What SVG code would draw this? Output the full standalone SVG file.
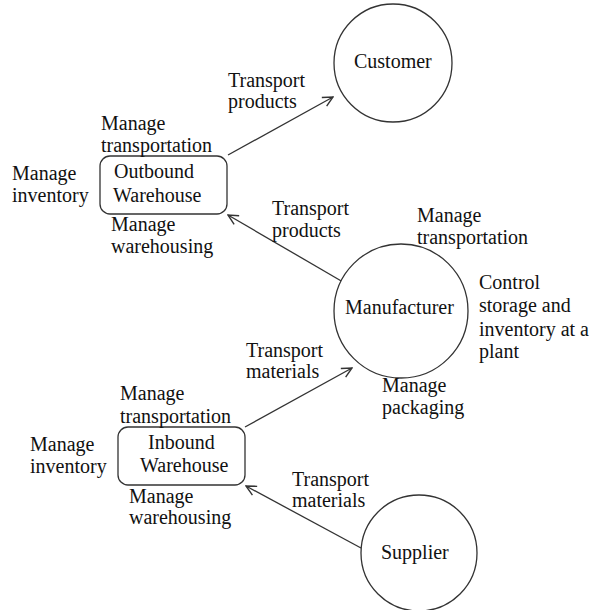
<svg xmlns="http://www.w3.org/2000/svg" width="595" height="610" viewBox="0 0 595 610">
<defs>
<marker id="arr" viewBox="0 0 12 12" refX="11" refY="6" markerWidth="12" markerHeight="12" markerUnits="userSpaceOnUse" orient="auto">
<path d="M1,1 L11,6 L1,11" fill="none" stroke="#333" stroke-width="1.4"/>
</marker>
</defs>
<style>
text{font-family:'Liberation Serif','DejaVu Serif',serif;font-size:20px;fill:#111}
.node{fill:#fff;stroke:#333;stroke-width:1.3}
.edge{stroke:#333;stroke-width:1.3;fill:none;marker-end:url(#arr)}
</style>
<rect width="595" height="610" fill="#fff"/>
<g id="connectors">
<line class="edge" x1="228" y1="155" x2="333" y2="97"/>
<line class="edge" x1="343" y1="282" x2="228" y2="215"/>
<line class="edge" x1="245" y1="427" x2="352" y2="368"/>
<line class="edge" x1="361" y1="548" x2="246" y2="486"/>
</g>
<g id="customer">
<circle class="node" cx="393" cy="63" r="59"/>
<text x="354" y="68">Customer</text>
</g>
<g id="outbound">
<rect class="node" x="100" y="156" width="127" height="58" rx="10"/>
<text x="114" y="178">Outbound</text>
<text x="113" y="202">Warehouse</text>
</g>
<g id="manufacturer">
<circle class="node" cx="401" cy="311" r="67"/>
<text x="345" y="314">Manufacturer</text>
</g>
<g id="inbound">
<rect class="node" x="118" y="427" width="127" height="58" rx="10"/>
<text x="148" y="449">Inbound</text>
<text x="140" y="472">Warehouse</text>
</g>
<g id="supplier">
<circle class="node" cx="419" cy="553" r="58"/>
<text x="381" y="559">Supplier</text>
</g>
<g id="labels">
<text x="228" y="87">Transport</text>
<text x="228" y="108">products</text>
<text x="101" y="130">Manage</text>
<text x="101" y="152">transportation</text>
<text x="12" y="180">Manage</text>
<text x="12" y="202">inventory</text>
<text x="111" y="231">Manage</text>
<text x="111" y="253">warehousing</text>
<text x="272" y="215">Transport</text>
<text x="272" y="237">products</text>
<text x="417" y="222">Manage</text>
<text x="417" y="244">transportation</text>
<text x="479" y="289">Control</text>
<text x="479" y="312">storage and</text>
<text x="479" y="336">inventory at a</text>
<text x="479" y="358">plant</text>
<text x="246" y="357">Transport</text>
<text x="246" y="378">materials</text>
<text x="382" y="392">Manage</text>
<text x="382" y="414">packaging</text>
<text x="120" y="400">Manage</text>
<text x="120" y="423">transportation</text>
<text x="30" y="451">Manage</text>
<text x="30" y="473">inventory</text>
<text x="129" y="503">Manage</text>
<text x="129" y="524">warehousing</text>
<text x="292" y="486">Transport</text>
<text x="292" y="507">materials</text>
</g>
</svg>
